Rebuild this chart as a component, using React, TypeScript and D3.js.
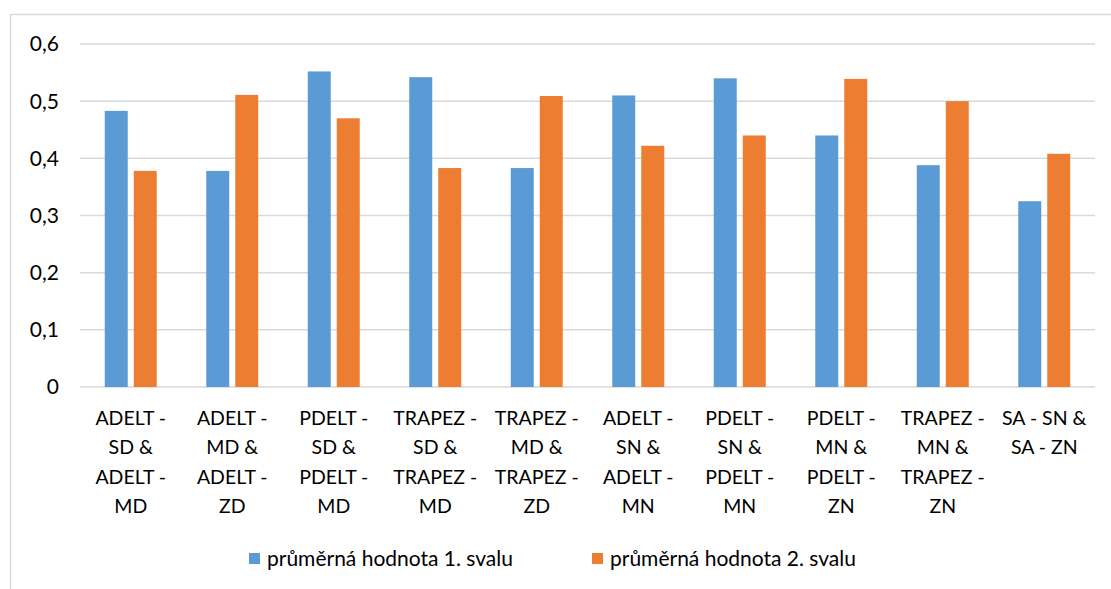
import React from "react";
import * as d3 from "d3";

const categories = [
  ["ADELT -", "SD &", "ADELT -", "MD"],
  ["ADELT -", "MD &", "ADELT -", "ZD"],
  ["PDELT -", "SD &", "PDELT -", "MD"],
  ["TRAPEZ -", "SD &", "TRAPEZ -", "MD"],
  ["TRAPEZ -", "MD &", "TRAPEZ -", "ZD"],
  ["ADELT -", "SN &", "ADELT -", "MN"],
  ["PDELT -", "SN &", "PDELT -", "MN"],
  ["PDELT -", "MN &", "PDELT -", "ZN"],
  ["TRAPEZ -", "MN &", "TRAPEZ -", "ZN"],
  ["SA - SN &", "SA - ZN"],
];
const svalu1 = [0.483, 0.378, 0.552, 0.542, 0.383, 0.51, 0.54, 0.44, 0.388, 0.325];
const svalu2 = [0.378, 0.511, 0.47, 0.383, 0.509, 0.422, 0.44, 0.539, 0.5, 0.408];
const seriesNames = ["průměrná hodnota 1. svalu", "průměrná hodnota 2. svalu"];
const yTicks = [0, 0.1, 0.2, 0.3, 0.4, 0.5, 0.6];

const colors = ["#5b9bd5", "#ed7d31"];
const font = "Lato, 'Open Sans', sans-serif";

const App = () => {
  const svgRef = React.useRef(null);
  const width = 1111;
  const height = 589;
  const margin = { top: 44, right: 16, bottom: 202, left: 80 };

  React.useEffect(() => {
    const svg = d3.select(svgRef.current);
    svg.selectAll("*").remove();

    // chart frame (cut off at right and bottom)
    svg
      .append("rect")
      .attr("x", 10.5)
      .attr("y", 14.5)
      .attr("width", width)
      .attr("height", height)
      .attr("fill", "none")
      .attr("stroke", "#d9d9d9")
      .attr("stroke-width", 1.5);

    const x = d3
      .scaleBand()
      .domain(categories.map((_, i) => String(i)))
      .range([margin.left, width - margin.right]);
    const y = d3
      .scaleLinear()
      .domain([0, 0.6])
      .range([height - margin.bottom, margin.top]);

    const barW = 23;
    const gap = 6;

    // gridlines
    svg
      .append("g")
      .selectAll("line")
      .data(yTicks)
      .join("line")
      .attr("x1", margin.left)
      .attr("x2", width - margin.right)
      .attr("y1", (d) => y(d))
      .attr("y2", (d) => y(d))
      .attr("stroke", "#d9d9d9")
      .attr("stroke-width", 1.5);

    // y labels
    svg
      .append("g")
      .selectAll("text")
      .data(yTicks)
      .join("text")
      .attr("x", 59)
      .attr("y", (d) => y(d))
      .attr("dy", "0.35em")
      .attr("text-anchor", "end")
      .attr("font-family", font)
      .attr("font-size", 21)
      .attr("fill", "#000")
      .text((d) => (d === 0 ? "0" : d3.format(".1f")(d).replace(".", ",")));

    const series = [svalu1, svalu2];
    series.forEach((vals, s) => {
      svg
        .append("g")
        .selectAll("rect")
        .data(vals)
        .join("rect")
        .attr("x", (d, i) => {
          const c = x(String(i)) + x.bandwidth() / 2;
          return s === 0 ? c - gap / 2 - barW : c + gap / 2;
        })
        .attr("y", (d) => y(d))
        .attr("width", barW)
        .attr("height", (d) => y(0) - y(d))
        .attr("fill", colors[s]);
    });

    // x labels
    const xl = svg
      .append("g")
      .selectAll("text")
      .data(categories)
      .join("text")
      .attr("text-anchor", "middle")
      .attr("font-family", font)
      .attr("font-size", 19.5)
      .attr("fill", "#000");
    xl.each(function (lines, i) {
      const t = d3.select(this);
      lines.forEach((ln, j) => {
        t.append("tspan")
          .attr("x", x(String(i)) + x.bandwidth() / 2)
          .attr("y", 425 + j * 29.3)
          .text(ln);
      });
    });

    // legend
    const legendX = [249, 592];
    seriesNames.forEach((name, s) => {
      svg
        .append("rect")
        .attr("x", legendX[s])
        .attr("y", 553)
        .attr("width", 11)
        .attr("height", 11)
        .attr("fill", colors[s]);
      svg
        .append("text")
        .attr("x", legendX[s] + 18)
        .attr("y", 559)
        .attr("dy", "0.35em")
        .attr("font-family", font)
        .attr("font-size", 21)
        .attr("fill", "#000")
        .text(name);
    });
  }, []);

  return (
    <svg
      ref={svgRef}
      width={width}
      height={height}
      style={{ position: "absolute", left: 0, top: 0, background: "#fff" }}
    />
  );
};

export default App;
